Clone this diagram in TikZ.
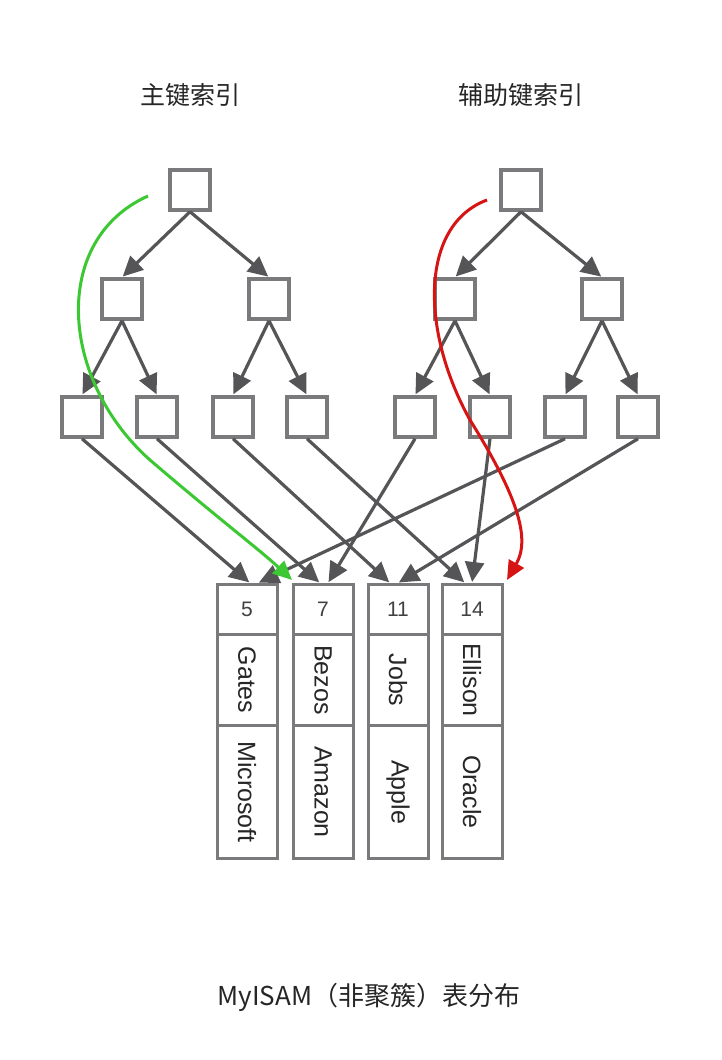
\documentclass[tikz,border=0pt]{standalone}
\usepackage{fontspec}
\setmainfont{Liberation Sans}
\newfontfamily\cjk{Noto Sans CJK SC}
\usetikzlibrary{arrows.meta}
\definecolor{ln}{HTML}{555558}
\definecolor{bx}{HTML}{7A7A7C}
\begin{document}
\begin{tikzpicture}[x=1pt,y=-1pt,
  bk/.style={draw=bx,line width=3.5pt,fill=white,minimum size=40pt,inner sep=0pt},
  ar/.style={draw=ln,line width=3.2pt,-{Triangle[length=20pt,width=19pt]},shorten >=1pt},
  cell/.style={draw=bx,line width=3pt,fill=white,minimum width=60pt,inner sep=0pt,anchor=north},
  rt/.style={rotate=-90,font=\fontsize{25}{25}\selectfont,text=black!85}]
\useasboundingbox[fill=white] (0,0) rectangle (722,1060);
\node[font=\cjk\fontsize{25}{25}\selectfont,text=black!85] (t1) at (190,95) {主键索引};
\node[font=\cjk\fontsize{25}{25}\selectfont,text=black!85] (t2) at (521,95) {辅助键索引};
\node[font=\cjk\fontsize{26}{26}\selectfont,text=black!85] (cap) at (369,997) {MyISAM（非聚簇）表分布};
% left tree
\node[bk] (a) at (190,190) {};
\node[bk] (a1) at (122,299) {};
\node[bk] (a2) at (269,299) {};
\node[bk] (a11) at (82,417) {};
\node[bk] (a12) at (157,417) {};
\node[bk] (a21) at (233,417) {};
\node[bk] (a22) at (307,417) {};
% right tree
\node[bk] (b) at (521,190) {};
\node[bk] (b1) at (455,299) {};
\node[bk] (b2) at (602,299) {};
\node[bk] (b11) at (415,417) {};
\node[bk] (b12) at (490,417) {};
\node[bk] (b21) at (565,417) {};
\node[bk] (b22) at (638,417) {};
% records
\foreach \n/\x/\k/\nm/\co in {r1/247/5/Gates/Microsoft, r2/323/7/Bezos/Amazon, r3/398/11/Jobs/Apple, r4/472/14/Ellison/Oracle}{
  \node[cell,minimum height=50pt] (\n k) at (\x,583) {\fontsize{21}{21}\selectfont\textcolor{black!75}{\k}};
  \node[cell,minimum height=91pt] (\n n) at (\x,633) {};
  \node[rt] at (\n n.center) {\nm};
  \node[cell,minimum height=133pt] (\n c) at (\x,724) {};
  \node[rt] at (\n c.center) {\co};
}
\coordinate (r1a) at (250,583); \coordinate (r1b) at (258,583);
\coordinate (r2a) at (320,583); \coordinate (r2b) at (328,583);
\coordinate (r3a) at (390,583); \coordinate (r3b) at (398,583);
\coordinate (r4a) at (465,583); \coordinate (r4b) at (472,583);
\begin{scope}[every path/.append style={ar}]
\draw (a.south) -- (a1.north); \draw (a.south) -- (a2.north);
\draw (a1.south) -- (a11.north); \draw (a1.south) -- (a12.north);
\draw (a2.south) -- (a21.north); \draw (a2.south) -- (a22.north);
\draw (b.south) -- (b1.north); \draw (b.south) -- (b2.north);
\draw (b1.south) -- (b11.north); \draw (b1.south) -- (b12.north);
\draw (b2.south) -- (b21.north); \draw (b2.south) -- (b22.north);
\draw (a11.south) -- (r1a); \draw (a12.south) -- (r2a);
\draw (a21.south) -- (r3a); \draw (a22.south) -- (r4a);
\draw (b11.south) -- (r2b); \draw (b12.south) -- (r4b);
\draw (b21.south) -- (r1b); \draw (b22.south) -- (r3b);
\end{scope}
\coordinate (gs) at (148,196); \coordinate (ge) at (292,580);
\coordinate (rs) at (487,200); \coordinate (re) at (507,580);
\draw[draw={rgb,255:red,60;green,200;blue,50},line width=3pt,-{Triangle[length=19pt,width=17pt]}]
  (gs) .. controls (50,240) and (60,380) .. (150,460) .. controls (220,520) and (260,550) .. (ge);
\draw[draw={rgb,255:red,215;green,20;blue,20},line width=3pt,-{Triangle[length=19pt,width=17pt]}]
  (rs) .. controls (420,225) and (420,330) .. (470,420) .. controls (520,500) and (530,540) .. (re);
\end{tikzpicture}
\end{document}
